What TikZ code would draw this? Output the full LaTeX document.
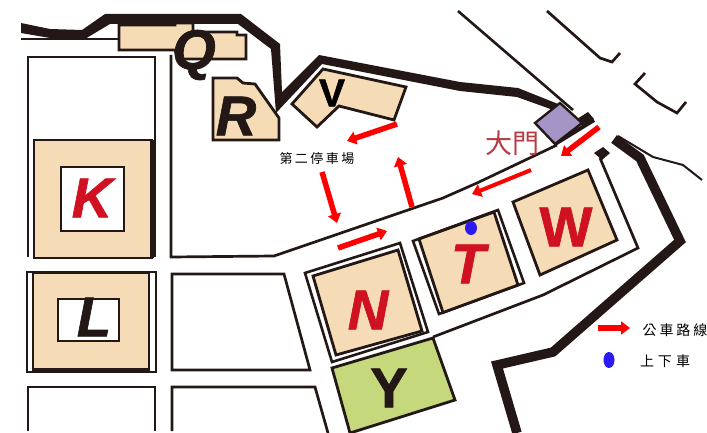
\documentclass[tikz,border=0pt]{standalone}
\usepackage{fontspec}
\setmainfont{Liberation Sans}
\newfontfamily\cjk{Noto Sans CJK TC}
\newfontfamily\heavyit{Liberation Sans Bold Italic}[FakeBold=1.2]
\newfontfamily\heavyup{Liberation Sans Bold}[FakeBold=1.2]
\usetikzlibrary{arrows.meta}
\definecolor{wallc}{HTML}{231815}
\definecolor{tan}{HTML}{F6DCB6}
\definecolor{leaf}{HTML}{C6D87C}
\definecolor{purp}{HTML}{A595C6}
\definecolor{redl}{HTML}{CF1122}
\definecolor{busred}{HTML}{FF0000}
\definecolor{gatered}{HTML}{B83A44}
\definecolor{stopblue}{HTML}{2B1BF0}
\tikzset{
  x=1pt,y=-1pt,
  wall/.style={draw=wallc,line width=9.5,line join=miter},
  road/.style={draw=wallc,line width=2.7,line join=miter},
  thinroad/.style={draw=wallc,line width=2},
  bldg/.style={draw=wallc,line width=2.8,fill=tan,line join=miter},
  busarrow/.style={draw=busred,line width=5.5,-{Triangle[length=9,width=13]}},
  bigletter/.style={font=\fontsize{56}{56}\selectfont\heavyit,inner sep=0},
  upletter/.style={font=\fontsize{56}{56}\selectfont\heavyup,inner sep=0},
  label/.style={font=\cjk\fontsize{#1}{#1}\selectfont,inner sep=0},
}
\begin{document}
\begin{tikzpicture}
\useasboundingbox (0,0) rectangle (707,433);
% outer walls
\draw[road] (21,39) -- (118,39);
\fill[wallc] (21,23) -- (50,29) -- (82,30) -- (105,14) -- (241,14) -- (280,44) -- (282,92) -- (319,55) -- (460,82) -- (518,88) -- (558,104) -- (556,111) -- (517,97) -- (460,91) -- (322,64) -- (276,113) -- (271,49) -- (238,24) -- (110,24) -- (85,39) -- (50,38) -- (21,33) -- cycle;
% left blocks
\draw[road] (28,257) -- (28,57) -- (155,57) -- (155,257);
\draw[bldg] (34,140) rectangle (152,258);
\draw[draw=wallc,line width=4] (152,140) -- (152,258);
\draw[road,fill=white] (61,167) rectangle (124,231);
\node[bigletter,text=redl] (k) at (92,198) {K};
\draw[road] (27,272) rectangle (156,372);
\draw[bldg,line width=2] (33,273) rectangle (149,371);
\draw[draw=wallc,line width=4] (33,370) -- (149,370);
\draw[road,fill=white] (58,299) rectangle (119,341);
\node[bigletter,text=wallc] (l) at (94,317) {L};
\draw[road] (28,431) -- (28,387) -- (155,387) -- (155,431);
% centre blocks and road
\draw[road] (171,55) -- (171,257) -- (274,256) -- (443,198) -- (477,183) -- (557,145);
\draw[road] (172,274) -- (284,274) -- (310,370) -- (172,370) -- cycle;
\draw[road] (172,431) -- (172,387) -- (315,387) -- (328,433);
% Q R V
\draw[bldg] (119,25) -- (175,25) -- (175,23) -- (193,23) -- (193,32) -- (237,32) -- (237,35) -- (246,35) -- (246,59) -- (178,59) -- (175,50) -- (119,50) -- cycle;
\node[bigletter,text=wallc] (q) at (194,55) {Q};
\draw[bldg] (213,78) -- (237,78) -- (243,83) -- (255,84) -- (279,118) -- (279,140) -- (213,140) -- cycle;
\node[bigletter,text=wallc] (r) at (236,116) {R};
\draw[bldg] (323,69) -- (406,87) -- (394,120) -- (339,106) -- (317,127) -- (292,104) -- cycle;
\node[font=\fontsize{39}{39}\selectfont\heavyup,inner sep=0,text=black] (v) at (332,93) {V};
% gate
\draw[draw=wallc,line width=2.6] (458,11) -- (573,110);
\draw[draw=wallc,line width=4] (555,144) -- (594,120);
\fill[wallc] (588,112) -- (594,119) -- (583,127) -- (577,119) -- cycle;
\draw[draw=wallc,line width=2.4,fill=purp] (560,103) -- (582,123) -- (555,144) -- (535,123) -- cycle;
\draw[road] (547,11) -- (600,58) -- (612,62) -- (620,53);
\draw[road] (645,73) -- (635,84) -- (657,102) -- (677,113) -- (686,102);
% right side
\draw[wall] (614,139) -- (640,158) -- (680,241) -- (553,352) -- (497,365) -- (517,433);
\draw[thinroad] (618,136) -- (653,157) -- (683,165) -- (702,180);
\fill[wallc] (603,147) -- (610,153) -- (602,160) -- (594,153) -- cycle;
\draw[road] (600,158) -- (638,248) -- (543,295) -- (433,337);
% south buildings
\draw[bldg] (513,202) -- (588,170) -- (617,240) -- (540,275) -- cycle;
\node[upletter,text=redl] (w) at (566,227) {W};
\draw[draw=wallc,line width=2.6,fill=white] (413,241) -- (498,210) -- (524,283) -- (439,314) -- cycle;
\draw[bldg] (419,239) -- (494,212) -- (518,285) -- (443,312.5) -- cycle;
\node[bigletter,text=redl] (t) at (468,264) {T};
\draw[draw=wallc,line width=2.6,fill=white] (305,273) -- (400,243) -- (428,332) -- (332,362) -- cycle;
\draw[bldg] (313,276) -- (398,250) -- (422,331) -- (336,355) -- cycle;
\node[bigletter,text=redl] (n) at (368,310) {N};
\draw[bldg,fill=leaf] (332,368) -- (433,338) -- (455,400) -- (350,433) -- cycle;
\node[upletter,text=wallc] (y) at (389,388) {Y};
% bus route
\coordinate (a1s) at (397,124); \coordinate (a1e) at (347,141);
\coordinate (a2s) at (412,207); \coordinate (a2e) at (398,157);
\coordinate (a3s) at (322,172); \coordinate (a3e) at (337,223);
\coordinate (a4s) at (338,248); \coordinate (a4e) at (387,231);
\coordinate (a5s) at (531,170); \coordinate (a5e) at (472,194);
\coordinate (a6s) at (599,127); \coordinate (a6e) at (561,156);
\coordinate (lgs) at (598,328); \coordinate (lge) at (630,328);
\draw[busarrow] (a1s) -- (a1e);
\draw[busarrow] (a2s) -- (a2e);
\draw[busarrow] (a3s) -- (a3e);
\draw[busarrow] (a4s) -- (a4e);
\draw[busarrow,line width=4] (a5s) -- (a5e);
\draw[busarrow] (a6s) -- (a6e);
\draw[busarrow] (lgs) -- (lge);
% stops
\fill[stopblue] (471,228) ellipse (6 and 7);
\fill[stopblue] (609,360) ellipse (5.5 and 8);
% labels
\node[label=13] (park) at (317,159) {第\hspace{2.5pt}二\hspace{2.5pt}停\hspace{2.5pt}車\hspace{2.5pt}場};
\node[label=27,text=gatered] (gate) at (512,143) {大門};
\node[label=14] (leg1) at (675,330) {公\hspace{3pt}車\hspace{3pt}路\hspace{3pt}線};
\node[label=14] (leg2) at (665,361) {上\hspace{4pt}下\hspace{4pt}車};
\end{tikzpicture}
\end{document}
